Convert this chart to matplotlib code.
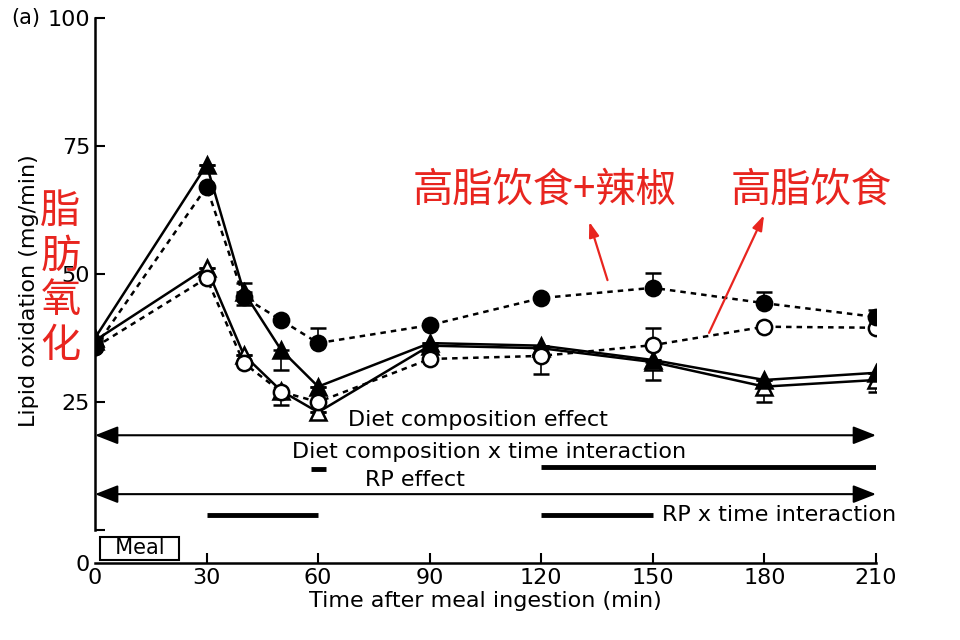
import matplotlib
matplotlib.use("Agg")
import matplotlib.pyplot as plt

plt.rcParams['font.family'] = ['DejaVu Sans']

# time points (min)
time = [0, 30, 40, 50, 60, 90, 120, 150, 180, 210]

# lipid oxidation (mg/min)
hf_rp = [35.7, 67.0, 45.5, 41.0, 36.5, 40.0, 45.3, 47.3, 44.3, 41.6]   # filled circle, dotted
hf = [35.7, 49.2, 32.6, 27.0, 25.0, 33.4, 34.0, 36.1, 39.7, 39.5]      # open circle, dotted
hc_rp = [37.5, 71.3, 46.5, 35.2, 28.0, 36.5, 36.0, 33.2, 29.3, 30.7]   # filled triangle, solid
hc = [37.0, 51.2, 34.2, 27.2, 23.0, 36.0, 35.5, 32.8, 28.0, 29.3]      # open triangle, solid

# one-sided error bars (lower, upper)
hf_rp_lo = [0, 0, 0, 0, 0, 0, 0, 0, 0, 0]
hf_rp_up = [0, 0, 2.7, 0, 3.0, 0, 0, 2.9, 2.2, 1.4]
hf_lo = [0, 0, 0, 2.6, 0, 0, 3.5, 0, 0, 0]
hf_up = [0, 0, 0, 0, 0, 0, 0, 3.4, 0, 0]
hc_rp_lo = [0, 0, 2.5, 4.0, 0, 0, 0, 0, 0, 0]
hc_rp_up = [0, 0, 0, 0, 0, 0, 0, 0, 0, 0]
hc_lo = [0, 0, 0, 0, 0, 0, 0, 3.5, 3.0, 2.3]
hc_up = [0, 0, 0, 0, 0, 0, 0, 0, 0, 0]

# statistics bars: (start, end, y)
diet_effect = (0, 210, 18.5)
diet_time = [(120, 210, 12.3), (58, 62, 12.0)]
rp_effect = (0, 210, 7.0)
rp_time = [(30, 60, 2.9), (120, 150, 2.9)]

red = "#e8251f"
y_bottom = -6.45

fig = plt.figure(figsize=(9.6, 6.4), dpi=100)
ax = fig.add_axes([0.099, 0.1203, 0.8135, 0.8516])

def draw(y, lo, up, marker, face, ls):
    ax.errorbar(time, y, yerr=[lo, up], color="black", lw=1.8, linestyle=ls,
                marker=marker, markersize=11, markerfacecolor=face,
                markeredgecolor="black", markeredgewidth=1.8,
                ecolor="black", elinewidth=1.2, capsize=6, capthick=1.6)

draw(hc, hc_lo, hc_up, "^", "white", "-")
draw(hc_rp, hc_rp_lo, hc_rp_up, "^", "black", "-")
draw(hf, hf_lo, hf_up, "o", "white", (0, (2.2, 2)))
draw(hf_rp, hf_rp_lo, hf_rp_up, "o", "black", (0, (2.2, 2)))

# effect arrows and interaction bars
arrow = dict(arrowstyle="<|-|>,head_length=1.4,head_width=0.55", lw=1.5,
             color="black", shrinkA=0, shrinkB=0)
ax.annotate("", xy=(diet_effect[1], diet_effect[2]), xytext=(diet_effect[0], diet_effect[2]),
            arrowprops=arrow)
ax.annotate("", xy=(rp_effect[1], rp_effect[2]), xytext=(rp_effect[0], rp_effect[2]),
            arrowprops=arrow)
for s, e, yv in diet_time:
    ax.plot([s, e], [yv, yv], color="black", lw=3.5, solid_capstyle="butt")
for s, e, yv in rp_time:
    ax.plot([s, e], [yv, yv], color="black", lw=3.5, solid_capstyle="butt")

ax.text(103, 21.4, "Diet composition effect", ha="center", va="center", fontsize=16)
ax.text(106, 15.2, "Diet composition x time interaction", ha="center", va="center", fontsize=16)
ax.text(86, 9.8, "RP effect", ha="center", va="center", fontsize=16)
ax.text(152.5, 2.9, "RP x time interaction", ha="left", va="center", fontsize=16)

ax.text(12, -3.6, "  Meal  ", ha="center", va="center", fontsize=15,
        bbox=dict(boxstyle="square,pad=0.08", fc="white", ec="black", lw=1.5))

# red annotations
cjk = ['Noto Sans CJK SC', 'DejaVu Sans']
ax.text(120.8, 66.4, "高脂饮食+辣椒", ha="center", va="center", fontsize=29,
        color=red, family=cjk)
ax.text(192.5, 66.4, "高脂饮食", ha="center", va="center", fontsize=29,
        color=red, family=cjk)
red_arrow = dict(arrowstyle="-|>,head_length=0.9,head_width=0.3", lw=1.6,
                 color=red, shrinkA=0, shrinkB=0)
ax.annotate("", xy=(132.9, 60.2), xytext=(137.8, 48.8), arrowprops=red_arrow)
ax.annotate("", xy=(179.9, 61.5), xytext=(165.1, 38.5), arrowprops=red_arrow)
fig.text(0.063, 0.565, "脂\n肪\n氧\n化", ha="center", va="center", fontsize=29,
         color=red, family=cjk, linespacing=1.12)

# axes styling
ax.set_xlim(0, 210)
ax.set_ylim(y_bottom, 100)
ax.spines["top"].set_visible(False)
ax.spines["right"].set_visible(False)
ax.spines["left"].set_bounds(0, 100)
ax.spines["left"].set_linewidth(1.8)
ax.spines["bottom"].set_linewidth(1.8)

ax.set_xticks([0, 30, 60, 90, 120, 150, 180, 210])
ax.set_yticks([y_bottom, 25, 50, 75, 100])
ax.set_yticklabels(["0", "25", "50", "75", "100"])
ax.set_yticks([0], minor=True)
ax.tick_params(axis="both", which="both", direction="in", length=7, width=1.5,
               labelsize=16)
ax.yaxis.get_major_ticks()[0].tick1line.set_visible(False)
ax.xaxis.get_major_ticks()[0].tick1line.set_visible(False)

ax.set_xlabel("Time after meal ingestion (min)", fontsize=16, labelpad=2)
ax.set_ylabel("Lipid oxidation (mg/min)", fontsize=16, labelpad=6)
fig.text(0.012, 0.972, "(a)", ha="left", va="center", fontsize=15)

fig.savefig("out.png", dpi=100)
